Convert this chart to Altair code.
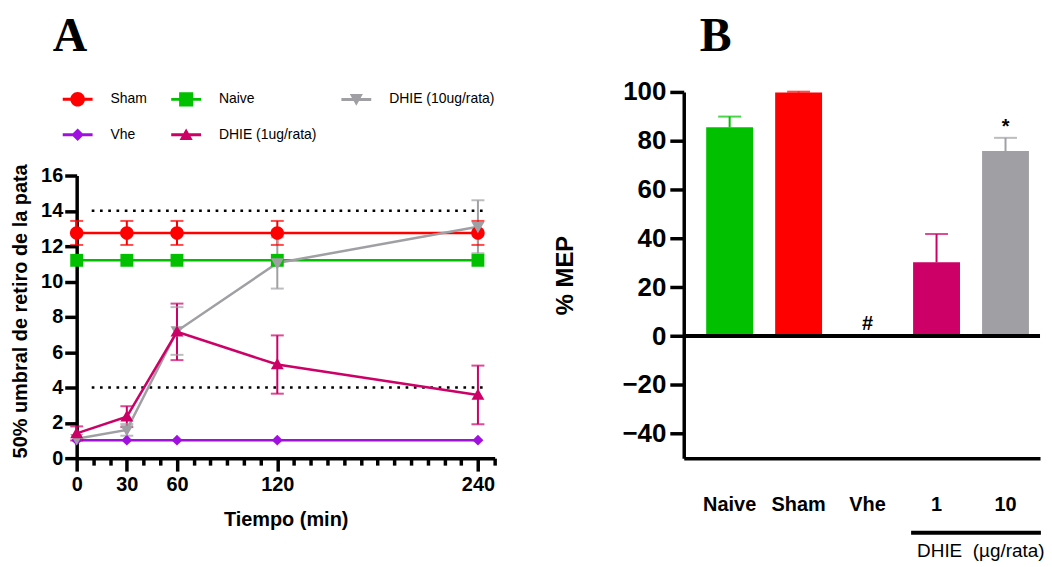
import altair as alt
import pandas as pd

# ---------------- Panel A data ----------------
times = [0, 30, 60, 120, 240]
series_names = ["Sham", "Naive", "Vhe", "DHIE (10ug/rata)", "DHIE (1ug/rata)"]
sham_mean = [12.75, 12.75, 12.75, 12.75, 12.75]
sham_sem = [0.68, 0.68, 0.68, 0.68, 0.68]
naive_mean = [11.2, 11.2, 11.2, 11.2, 11.2]
naive_sem = [0.0, 0.0, 0.0, 0.0, 0.0]
vhe_mean = [1.02, 1.02, 1.02, 1.02, 1.02]
vhe_sem = [0.0, 0.0, 0.0, 0.0, 0.0]
dhie10_mean = [1.1, 1.6, 7.2, 11.05, 13.1]
dhie10_sem = [0.0, 0.33, 1.35, 1.45, 1.5]
dhie1_mean = [1.4, 2.35, 7.15, 5.3, 3.58]
dhie1_sem = [0.4, 0.59, 1.6, 1.65, 1.66]
series_colors = ["#ff0000", "#00c000", "#a010e0", "#a0a0a4", "#cc0066"]
# legend fills column by column: (Sham, Vhe) | (Naive, DHIE 1) | (DHIE 10)
legend_order = ["Sham", "Vhe", "Naive", "DHIE (1ug/rata)", "DHIE (10ug/rata)"]
ref_levels = [4, 14]
ref_span = [9, 245]
x_labelled = [0, 30, 60, 120, 240]
x_minor = list(range(0, 251, 10))
y_ticks_a = [0, 2, 4, 6, 8, 10, 12, 14, 16]

# ---------------- Panel B data ----------------
groups = ["Naive", "Sham", "Vhe", "1", "10"]
mep_mean = [85.5, 99.8, 0.6, 30.2, 75.8]
mep_sem = [4.4, 0.3, 0.0, 11.6, 5.4]
bar_colors = ["#00c000", "#ff0000", "#a010e0", "#cc0066", "#a0a0a4"]
sig_marks = ["", "", "#", "", "*"]
y_ticks_b = [-40, -20, 0, 20, 40, 60, 80, 100]

# ---------------- styles ----------------
marker_paths = {
    "Sham": "M-1,0A1,1,0,1,1,1,0A1,1,0,1,1,-1,0Z",
    "Naive": "M-0.95,-0.95H0.95V0.95H-0.95Z",
    "Vhe": "M0,-0.8L0.8,0L0,0.8L-0.8,0Z",
    "DHIE (1ug/rata)": "M0,-0.95L0.95,0.7H-0.95Z",
    "DHIE (10ug/rata)": "M0,0.95L-0.95,-0.7H0.95Z",
}
# legend symbols: a short line with the marker on it (unit box, 1 unit = 15 px)
LINE = "M-1,-0.1H1V0.1H-1Z"
legend_paths = {
    "Sham": LINE + "M-0.49,0A0.49,0.49,0,1,1,0.49,0A0.49,0.49,0,1,1,-0.49,0Z",
    "Naive": LINE + "M-0.47,-0.47H0.47V0.47H-0.47Z",
    "Vhe": LINE + "M0,-0.42L0.42,0L0,0.42L-0.42,0Z",
    "DHIE (1ug/rata)": LINE + "M0,-0.42L0.44,0.36H-0.44Z",
    "DHIE (10ug/rata)": LINE + "M0,0.42L-0.44,-0.36H0.44Z",
}
color_of = dict(zip(series_names, series_colors))

rows = []
for name, ms, ss in zip(series_names,
                        [sham_mean, naive_mean, vhe_mean, dhie10_mean, dhie1_mean],
                        [sham_sem, naive_sem, vhe_sem, dhie10_sem, dhie1_sem]):
    for t, m, s in zip(times, ms, ss):
        rows.append({"series": name, "time": t, "mean": m, "lo": m - s, "hi": m + s, "sem": s})
dfA = pd.DataFrame(rows)
dfRef = pd.DataFrame({"level": ref_levels, "x0": [ref_span[0]] * 2, "x1": [ref_span[1]] * 2})

dfB = pd.DataFrame({"group": groups, "mep": mep_mean, "sem": mep_sem,
                    "top": [m + s for m, s in zip(mep_mean, mep_sem)],
                    "color": bar_colors, "mark": sig_marks})
dfZero = pd.DataFrame({"level": [0]})
dfOne = pd.DataFrame({"k": [1]})

H = 368            # both plot areas share this height
A_TOP = 84         # panel A's y scale starts this far below the plot top
WA, WB = 420, 358
FONT = "Liberation Sans"

base_axis = dict(domainColor="black", domainWidth=3.5, tickColor="black", tickWidth=3.5,
                 labelColor="black", labelFont=FONT, labelFontWeight="bold",
                 titleColor="black", titleFont=FONT,
                 grid=False, labelFlush=False, labelOverlap=False, labelBound=False)


def panel_letter(letter, dx):
    return alt.Chart(dfOne).mark_text(
        text=letter, font="Liberation Serif", fontSize=48, fontWeight="bold", color="black",
        align="left", baseline="alphabetic").encode(x=alt.value(dx), y=alt.value(-41))


lab_test = "indexof(" + str(x_labelled) + ", datum.value) >= 0"
axA_x = alt.Axis(values=x_minor,
                 labelExpr=lab_test + " ? datum.label : ''",
                 tickSize={"condition": {"test": lab_test, "value": 13}, "value": 7},
                 labelFontSize=20, labelPadding=3,
                 title="Tiempo (min)", titleFontSize=20, titlePadding=16,
                 titleFontWeight="bold", **base_axis)
scA_x = alt.Scale(domain=[0, 250], nice=False, zero=False)
axA_y = alt.Axis(values=y_ticks_a, tickSize=12, labelFontSize=20, labelPadding=2,
                 title="50% umbral de retiro de la pata", titleFontSize=20,
                 titleFontWeight="bold", titlePadding=10, titleY=220, **base_axis)
scA_y = alt.Scale(domain=[0, 16], nice=False, range=[H, A_TOP])


def xa(f):
    return alt.X(f, scale=scA_x, axis=axA_x)


def ya(f):
    return alt.Y(f, scale=scA_y, axis=axA_y)


col_scale = alt.Scale(domain=series_names, range=series_colors)
color_enc = alt.Color("series:N", scale=col_scale, legend=None)

legend = alt.Legend(title=None, orient="none", legendX=-14, legendY=-8, columns=3,
                    labelFont=FONT, labelFontSize=14, labelColor="black",
                    columnPadding=24, rowPadding=13, labelOffset=18, padding=0,
                    symbolSize=900, symbolStrokeWidth=0, symbolOpacity=1)
leg_fill_scale = alt.Scale(domain=legend_order, range=[color_of[n] for n in legend_order])
leg_shape_scale = alt.Scale(domain=legend_order, range=[legend_paths[n] for n in legend_order])

refs = alt.Chart(dfRef).mark_rule(color="black", strokeWidth=2.5, strokeDash=[2.7, 5.6]).encode(
    x=xa("x0:Q"), x2="x1:Q", y=ya("level:Q"))
lines = alt.Chart(dfA).mark_line(strokeWidth=2.5).encode(
    x=xa("time:Q"), y=ya("mean:Q"), color=color_enc, order="time:Q")
errs = alt.Chart(dfA).transform_filter("datum.sem > 0").mark_rule(strokeWidth=2).encode(
    x=xa("time:Q"), y=ya("lo:Q"), y2="hi:Q", color=color_enc)
cap_lo = alt.Chart(dfA).transform_filter("datum.sem > 0").mark_tick(
    orient="horizontal", size=13, thickness=2).encode(
    x=xa("time:Q"), y=ya("lo:Q"), color=color_enc)
cap_hi = alt.Chart(dfA).transform_filter("datum.sem > 0").mark_tick(
    orient="horizontal", size=13, thickness=2).encode(
    x=xa("time:Q"), y=ya("hi:Q"), color=color_enc)
# one marker layer per series, drawn in series order
pts = [alt.Chart(dfA).transform_filter(alt.datum.series == n).mark_point(
           filled=True, size=185, opacity=1, shape=marker_paths[n]).encode(
           x=xa("time:Q"), y=ya("mean:Q"), color=color_enc)
       for n in series_names]
# legend-only layer: no rows reach the marks, the legend comes from the scale domains
key = alt.Chart(dfA).transform_filter("false").mark_point(
    filled=True, size=900, opacity=1, strokeWidth=0).encode(
    fill=alt.Fill("series:N", scale=leg_fill_scale, legend=legend),
    shape=alt.Shape("series:N", scale=leg_shape_scale, legend=legend))

panelA = alt.layer(refs, lines, errs, cap_lo, cap_hi, *pts, key,
                   panel_letter("A", -24)).properties(width=WA, height=H)

# ---------------- Panel B ----------------
scB_x = alt.Scale(domain=groups, paddingInner=0.32, paddingOuter=0.243, align=0.67)
axB_x = alt.Axis(labelAngle=0, ticks=False, tickSize=0, labelFontSize=20, labelPadding=37,
                 title="DHIE\u00a0 (\u00b5g/rata)", titleFontSize=19, titleFontWeight="normal",
                 titleX=WB + 4, titleY=99, titleAlign="right", titleBaseline="alphabetic",
                 **base_axis)
scB_y = alt.Scale(domain=[-50, 100], nice=False)
axB_y = alt.Axis(values=y_ticks_b, tickSize=14, labelFontSize=26, labelPadding=4,
                 title="% MEP", titleFontSize=24, titleFontWeight="bold",
                 titlePadding=45, **base_axis)


def xb():
    return alt.X("group:N", sort=groups, scale=scB_x, axis=axB_x)


def yb(f):
    return alt.Y(f, scale=scB_y, axis=axB_y)


bars = alt.Chart(dfB).mark_bar().encode(
    x=xb(), y=yb("mep:Q"), color=alt.Color("color:N", scale=None))
zero = alt.Chart(dfZero).mark_rule(color="black", strokeWidth=4).encode(y=yb("level:Q"))
errB = alt.Chart(dfB).transform_filter("datum.sem > 0").mark_rule(strokeWidth=2).encode(
    x=xb(), y=yb("mep:Q"), y2="top:Q", color=alt.Color("color:N", scale=None))
capB = alt.Chart(dfB).transform_filter("datum.sem > 0").mark_tick(
    orient="horizontal", size=23, thickness=2).encode(
    x=xb(), y=yb("top:Q"), color=alt.Color("color:N", scale=None))
sig = alt.Chart(dfB).transform_filter("datum.mark != ''").mark_text(
    font=FONT, fontSize=20, fontWeight="bold", color="black", dy=-5,
    baseline="alphabetic").encode(x=xb(), y=yb("top:Q"), text="mark:N")
underline = alt.Chart(dfOne).mark_rule(color="black", strokeWidth=4, xOffset=-2,
                                       x2Offset=12).encode(
    x=alt.XDatum("1", bandPosition=0, scale=scB_x),
    x2=alt.X2Datum("10", bandPosition=1),
    y=alt.value(H + 75))

panelB = alt.layer(bars, errB, capB, zero, sig, underline,
                   panel_letter("B", 16)).properties(width=WB, height=H)

chart = alt.hconcat(panelA, panelB, spacing=56).properties(
    padding={"left": 2, "top": 4, "right": 0, "bottom": 0}
).configure(font=FONT).configure_view(strokeWidth=0, stroke="transparent")

chart.save("out.html", embed_options={"renderer": "svg", "actions": False})
